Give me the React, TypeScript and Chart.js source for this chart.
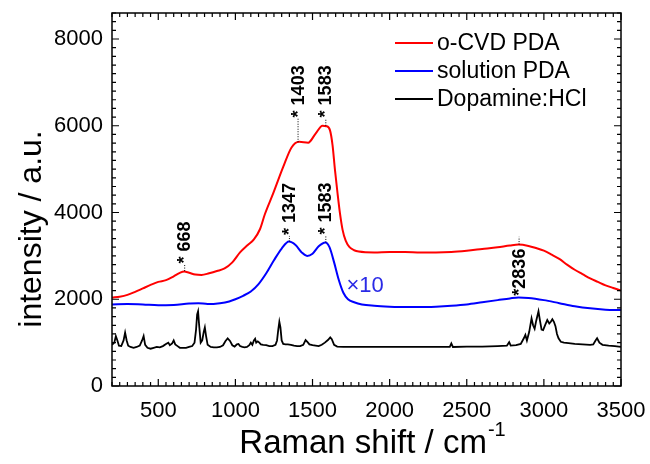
import React, { useEffect, useRef } from 'react';
import { Chart, registerables } from 'chart.js';

Chart.register(...registerables);

const FONT = '"Liberation Sans", Arial, Helvetica, sans-serif';

// ---- data ----
const xTickValues = [500, 1000, 1500, 2000, 2500, 3000, 3500];
const yTickValues = [0, 2000, 4000, 6000, 8000];

const ocvdShift = [200, 250, 300, 350, 400, 450, 500, 550, 600, 640, 668, 700, 740, 780, 830, 880, 930, 980, 1030, 1080, 1120, 1160, 1191, 1245, 1310, 1364, 1413, 1472, 1520, 1565, 1590, 1613, 1630, 1645, 1662, 1678, 1695, 1715, 1740, 1770, 1800, 1900, 2000, 2100, 2200, 2300, 2400, 2500, 2600, 2700, 2780, 2836, 2900, 2950, 3000, 3050, 3100, 3150, 3200, 3250, 3300, 3350, 3400, 3450, 3500];
const ocvdIntensity = [2040, 2060, 2100, 2170, 2250, 2330, 2400, 2440, 2530, 2610, 2640, 2610, 2570, 2560, 2600, 2650, 2710, 2850, 3080, 3250, 3380, 3620, 3960, 4440, 5050, 5500, 5630, 5610, 5820, 6000, 5990, 5900, 5550, 5000, 4450, 3980, 3600, 3350, 3200, 3130, 3100, 3080, 3090, 3090, 3080, 3080, 3090, 3120, 3160, 3200, 3240, 3260, 3230, 3180, 3120, 3030, 2930, 2800, 2680, 2580, 2480, 2400, 2320, 2260, 2200];

const solutionShift = [200, 300, 400, 500, 600, 700, 760, 820, 900, 960, 1000, 1050, 1100, 1150, 1200, 1250, 1300, 1347, 1390, 1430, 1465, 1500, 1540, 1583, 1610, 1640, 1670, 1700, 1730, 1770, 1820, 1900, 2000, 2100, 2200, 2300, 2400, 2500, 2600, 2700, 2780, 2836, 2900, 3000, 3100, 3200, 3300, 3400, 3500];
const solutionIntensity = [1880, 1890, 1880, 1860, 1870, 1900, 1910, 1890, 1910, 1950, 2000, 2080, 2180, 2350, 2600, 2900, 3170, 3330, 3250, 3080, 3000, 3050, 3220, 3310, 3200, 2850, 2450, 2150, 2000, 1930, 1880, 1850, 1830, 1820, 1820, 1830, 1850, 1880, 1930, 1980, 2020, 2040, 2030, 1980, 1910, 1840, 1790, 1760, 1750];

const dopamineShift = [200, 215, 225, 235, 245, 260, 275, 285, 295, 305, 320, 340, 360, 380, 395, 405, 415, 430, 450, 470, 490, 510, 530, 550, 565, 575, 590, 600, 610, 625, 640, 660, 680, 700, 720, 735, 745, 752, 758, 765, 775, 785, 795, 802, 810, 820, 840, 860, 880, 900, 920, 935, 950, 965, 980, 995, 1010, 1020, 1030, 1045, 1060, 1075, 1090, 1100, 1110, 1120, 1128, 1135, 1145, 1155, 1165, 1180, 1200, 1220, 1240, 1260, 1270, 1278, 1285, 1292, 1300, 1310, 1325, 1340, 1360, 1380, 1400, 1420, 1440, 1455, 1468, 1480, 1500, 1520, 1540, 1560, 1580, 1600, 1615, 1625, 1640, 1660, 1700, 1800, 1900, 2000, 2100, 2200, 2300, 2390, 2400, 2410, 2500, 2600, 2700, 2760, 2775, 2785, 2820, 2850, 2870, 2880, 2890, 2905, 2920, 2930, 2940, 2950, 2965, 2975, 2985, 2995, 3010, 3022, 3035, 3045, 3055, 3065, 3075, 3085, 3095, 3110, 3130, 3160, 3200, 3250, 3300, 3320, 3335, 3345, 3360, 3380, 3420, 3460, 3500];
const dopamineIntensity = [950, 1000, 1150, 1050, 930, 920, 1050, 1230, 1050, 930, 900, 880, 900, 930, 1050, 1150, 950, 880, 860, 880, 900, 890, 920, 970, 1000, 940, 980, 1050, 960, 920, 880, 880, 880, 900, 920, 1000, 1300, 1650, 1720, 1400, 1000, 1050, 1250, 1350, 1150, 950, 900, 890, 890, 900, 940, 1030, 1100, 1040, 940, 910, 960, 970, 920, 900, 890, 900, 940, 1000, 950, 1050, 1090, 1000, 1030, 1000, 960, 950, 940, 920, 920, 950, 1050, 1300, 1480, 1350, 1050, 970, 960, 960, 950, 930, 920, 920, 950, 1060, 1010, 960, 940, 930, 920, 950, 1000, 1060, 1120, 1080, 950, 910, 900, 900, 900, 900, 900, 900, 900, 900, 980, 900, 910, 910, 920, 930, 1010, 930, 940, 970, 1100, 1180, 1050, 1250, 1560, 1400, 1320, 1500, 1720, 1500, 1300, 1290, 1420, 1520, 1440, 1480, 1540, 1480, 1380, 1200, 1100, 1020, 1000, 990, 970, 960, 950, 960, 1050, 1100, 1000, 950, 930, 920, 900];

const seriesNames = ['o-CVD PDA', 'solution PDA', 'Dopamine:HCl'];
const seriesColors = ['#ff0000', '#0000ff', '#000000'];

// peak annotations: x (shift), curve value, top of dotted line, value where the label starts, label
const peakShift = [668, 1403, 1583, 1347, 1583, 2836];
const peakCurve = [2650, 5620, 6000, 3330, 3310, 3260];
const peakDotTo = [2800, 6170, 6170, 3460, 3470, 3440];
const peakLabelAt = [2800, 6170, 6170, 3460, 3470, 2060];
const peakLabels = ['* 668', '* 1403', '* 1583', '* 1347', '* 1583', '*2836'];

const pairs = (xs: number[], ys: number[]) => xs.map((x, i) => ({ x, y: ys[i] }));

const decorPlugin = {
  id: 'decor',
  afterDatasetsDraw(chart: any) {
    const ctx = chart.ctx as CanvasRenderingContext2D;
    const { left, right, top, bottom } = chart.chartArea;
    const xs = chart.scales.x;
    const ys = chart.scales.y;
    ctx.save();

    // peak annotations
    ctx.fillStyle = '#000';
    ctx.strokeStyle = '#000';
    for (let i = 0; i < peakShift.length; i++) {
      const px = xs.getPixelForValue(peakShift[i]);
      const y0 = ys.getPixelForValue(peakCurve[i]);
      const y1 = ys.getPixelForValue(peakDotTo[i]);
      ctx.setLineDash([1, 1.5]);
      ctx.lineWidth = 1;
      ctx.beginPath();
      ctx.moveTo(px + 0.5, y0);
      ctx.lineTo(px + 0.5, y1);
      ctx.stroke();
      ctx.setLineDash([]);
      const ly = ys.getPixelForValue(peakLabelAt[i]);
      ctx.save();
      ctx.translate(px + 1, ly);
      ctx.rotate(-Math.PI / 2);
      ctx.font = `bold 18px ${FONT}`;
      ctx.textAlign = 'left';
      ctx.textBaseline = 'middle';
      ctx.fillText(peakLabels[i], 1, 0);
      ctx.restore();
    }

    // x10 label
    ctx.fillStyle = '#2a2ae6';
    ctx.font = `22px ${FONT}`;
    ctx.textAlign = 'left';
    ctx.textBaseline = 'middle';
    ctx.fillText('\u00d710', xs.getPixelForValue(1720), ys.getPixelForValue(2300));

    // frame
    ctx.strokeStyle = '#000';
    ctx.lineWidth = 1.5;
    ctx.strokeRect(left, top, right - left, bottom - top);

    // inward ticks
    ctx.lineWidth = 1.2;
    ctx.beginPath();
    for (let v = 200; v <= 3500; v += 50) {
      const p = xs.getPixelForValue(v);
      const len = v % 500 === 0 ? 7 : 4;
      ctx.moveTo(p, bottom);
      ctx.lineTo(p, bottom - len);
      ctx.moveTo(p, top);
      ctx.lineTo(p, top + len);
    }
    for (let v = 0; v <= 8600; v += 200) {
      const p = ys.getPixelForValue(v);
      const len = v % 2000 === 0 ? 7 : 4;
      ctx.moveTo(left, p);
      ctx.lineTo(left + len, p);
      ctx.moveTo(right, p);
      ctx.lineTo(right - len, p);
    }
    ctx.stroke();

    // tick labels
    ctx.fillStyle = '#000';
    ctx.font = `22px ${FONT}`;
    ctx.textBaseline = 'middle';
    ctx.textAlign = 'right';
    for (const v of yTickValues) {
      ctx.fillText(String(v), left - 9, ys.getPixelForValue(v));
    }
    ctx.textAlign = 'center';
    for (const v of xTickValues) {
      ctx.fillText(String(v), xs.getPixelForValue(v), bottom + 25);
    }

    // legend
    const lx = 395;
    const ly0 = 43;
    ctx.font = `23px ${FONT}`;
    ctx.textAlign = 'left';
    ctx.textBaseline = 'middle';
    for (let i = 0; i < seriesNames.length; i++) {
      const y = ly0 + i * 28;
      ctx.strokeStyle = seriesColors[i];
      ctx.lineWidth = 1.8;
      ctx.beginPath();
      ctx.moveTo(lx, y);
      ctx.lineTo(lx + 38, y);
      ctx.stroke();
      ctx.fillStyle = '#000';
      ctx.fillText(seriesNames[i], lx + 42, y + 1);
    }

    // axis titles
    ctx.fillStyle = '#000';
    ctx.font = `32px ${FONT}`;
    ctx.save();
    ctx.translate(41, 229);
    ctx.rotate(-Math.PI / 2);
    ctx.textAlign = 'center';
    ctx.textBaseline = 'alphabetic';
    ctx.fillText('intensity / a.u.', 0, 0);
    ctx.restore();

    const main = 'Raman shift / cm';
    const sup = '-1';
    ctx.font = `33px ${FONT}`;
    const w1 = ctx.measureText(main).width;
    ctx.font = `20px ${FONT}`;
    const w2 = ctx.measureText(sup).width;
    const startX = 372 - (w1 + w2) / 2;
    ctx.textAlign = 'left';
    ctx.textBaseline = 'alphabetic';
    ctx.font = `33px ${FONT}`;
    ctx.fillText(main, startX, 453);
    ctx.font = `20px ${FONT}`;
    ctx.fillText(sup, startX + w1 + 1, 436);

    ctx.restore();
  },
};

export default function App() {
  const ref = useRef<HTMLCanvasElement>(null);
  useEffect(() => {
    const canvas = ref.current as HTMLCanvasElement;
    const chart = new Chart(canvas, {
      type: 'line',
      data: {
        datasets: [
          {
            label: seriesNames[0],
            data: pairs(ocvdShift, ocvdIntensity),
            borderColor: seriesColors[0],
            borderWidth: 2,
            pointRadius: 0,
            cubicInterpolationMode: 'monotone',
            fill: false,
          },
          {
            label: seriesNames[1],
            data: pairs(solutionShift, solutionIntensity),
            borderColor: seriesColors[1],
            borderWidth: 2,
            pointRadius: 0,
            cubicInterpolationMode: 'monotone',
            fill: false,
          },
          {
            label: seriesNames[2],
            data: pairs(dopamineShift, dopamineIntensity),
            borderColor: seriesColors[2],
            borderWidth: 1.8,
            pointRadius: 0,
            tension: 0,
            fill: false,
          },
        ],
      } as any,
      options: {
        responsive: false,
        animation: false,
        devicePixelRatio: 1,
        events: [],
        layout: { padding: { left: 112, right: 29, top: 13, bottom: 78 } },
        plugins: { legend: { display: false }, tooltip: { enabled: false } },
        scales: {
          x: { type: 'linear', min: 200, max: 3500, display: false },
          y: { type: 'linear', min: 0, max: 8600, display: false },
        },
      } as any,
      plugins: [decorPlugin],
    });
    return () => chart.destroy();
  }, []);
  return (
    <div style={{ position: 'fixed', left: 0, top: 0, width: 650, height: 464, background: '#fff' }}>
      <canvas ref={ref} width={650} height={464} style={{ display: 'block', width: 650, height: 464 }} />
    </div>
  );
}
